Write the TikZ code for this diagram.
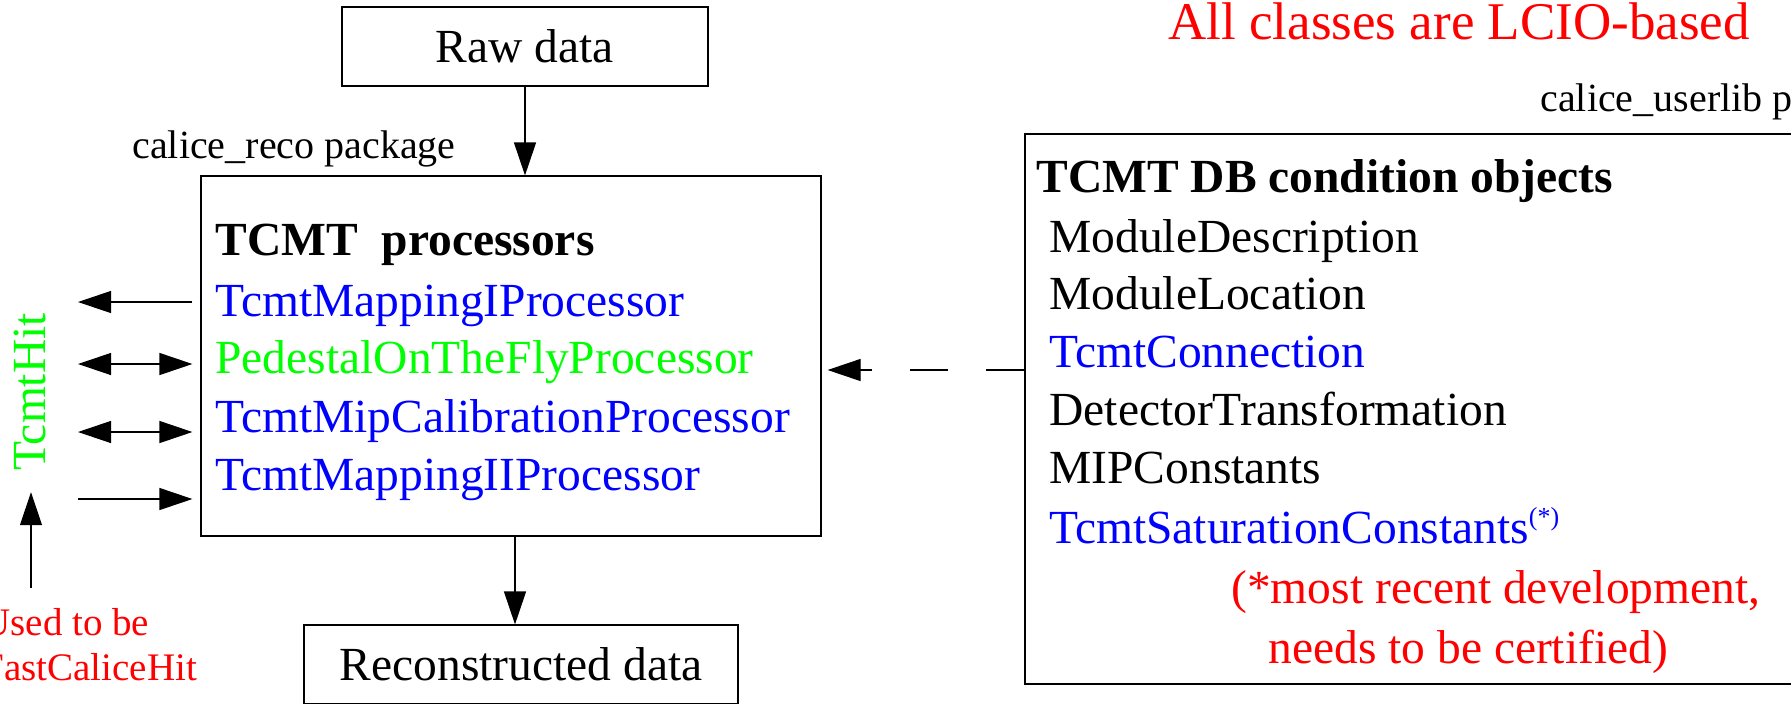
\documentclass[tikz,border=0pt]{standalone}
\usepackage{fontspec}
\setmainfont{Liberation Serif}
\usetikzlibrary{arrows.meta}

\definecolor{procblue}{RGB}{0,0,255}
\definecolor{hitgreen}{RGB}{0,255,0}
\definecolor{notered}{RGB}{255,0,0}

\newcommand{\mainsize}{\fontsize{23.75}{28}\selectfont}
\newcommand{\pkgsize}{\fontsize{20}{24}\selectfont}
\newcommand{\headsize}{\fontsize{26.5}{32}\selectfont}
\newcommand{\usedsize}{\fontsize{19.5}{23}\selectfont}
\newcommand{\starmark}{\raisebox{9pt}{\fontsize{13}{14}\selectfont(*)}}

\tikzset{
  bigtri/.tip={Triangle[length=16.5pt,width=11pt]},
  box/.style={draw, line width=0.6pt, inner sep=0pt, font=\mainsize},
  txt/.style={anchor=base west, inner sep=0pt, font=\mainsize},
  arr/.style={line width=0.6pt, -bigtri},
  twoarr/.style={line width=0.6pt, bigtri-bigtri},
}

\begin{document}
\begin{tikzpicture}[x=0.5pt, y=-0.5pt]
  \clip (0,0) rectangle (1791,703);

  % boxes
  \node[box, minimum width=183pt, minimum height=39.5pt] (raw) at (525,46.5) {Raw data};
  \node[box, minimum width=310pt, minimum height=180pt] (proc) at (511,356) {};
  \node[box, minimum width=217pt, minimum height=39.5pt] (recon) at (521,664.5) {Reconstructed data};
  \node[box, minimum width=387.5pt, minimum height=275pt] (db) at (1412.5,409) {};

  % labels
  \node[txt, font=\headsize, text=notered] (lcio) at (1168,39) {All classes are LCIO-based};
  \node[txt, font=\pkgsize] (reco) at (132,158) {calice\_reco package};
  \node[txt, font=\pkgsize] (userlib) at (1540,111) {calice\_userlib package};

  % processors
  \path
    (215,255) node[txt] (ptitle) {\bfseries TCMT\ \ processors}
    (215,316) node[txt, text=procblue] (p1) {TcmtMappingIProcessor}
    (215,373) node[txt, text=hitgreen] (p2) {PedestalOnTheFlyProcessor}
    (215,432) node[txt, text=procblue] (p3) {TcmtMipCalibrationProcessor}
    (215,490) node[txt, text=procblue] (p4) {TcmtMappingIIProcessor};

  % condition objects
  \path
    (1036,192) node[txt] (dtitle) {\bfseries TCMT DB condition objects}
    (1049,252) node[txt] (d1) {ModuleDescription}
    (1049,309) node[txt] (d2) {ModuleLocation}
    (1049,367) node[txt, text=procblue] (d3) {TcmtConnection}
    (1049,425) node[txt] (d4) {DetectorTransformation}
    (1049,483) node[txt] (d5) {MIPConstants}
    (1049,543) node[txt, text=procblue] (d6) {TcmtSaturationConstants\starmark}
    (1231,603) node[txt, text=notered] (n1) {(*most recent development,}
    (1268,663) node[txt, text=notered] (n2) {needs to be certified)};

  % hits
  \node[inner sep=0pt, font=\mainsize, text=hitgreen, rotate=90] (hit) at (30,392) {TcmtHit};
  \node[txt, font=\usedsize, text=notered] (used1) at (-18,635) {Used to be};
  \node[txt, font=\usedsize, text=notered] (used2) at (-18,680) {FastCaliceHit};

  \coordinate (hitA) at (78,302);
  \coordinate (hitB) at (78,364);
  \coordinate (hitC) at (78,432);
  \coordinate (hitD) at (78,499);
  \coordinate (usedtop) at (31,588);

  % connectors
  \draw[arr] (raw) -- (raw |- proc.north);
  \draw[arr] ([xshift=2pt]proc.south) -- ([xshift=2pt]proc.south |- recon.north);
  \draw[arr, dash pattern=on 19pt off 19pt, shorten >=3pt] ([yshift=19.5pt]db.west) -- ([yshift=-7pt]proc.east);
  \draw[arr, shorten <=4pt] (hitA -| proc.west) -- (hitA);
  \draw[twoarr, shorten <=4pt] (hitB -| proc.west) -- (hitB);
  \draw[twoarr, shorten <=4pt] (hitC -| proc.west) -- (hitC);
  \draw[arr, shorten >=4pt] (hitD) -- (hitD -| proc.west);
  \draw[arr, shorten >=10.5pt] (usedtop) -- (usedtop |- hit.west);
\end{tikzpicture}
\end{document}
